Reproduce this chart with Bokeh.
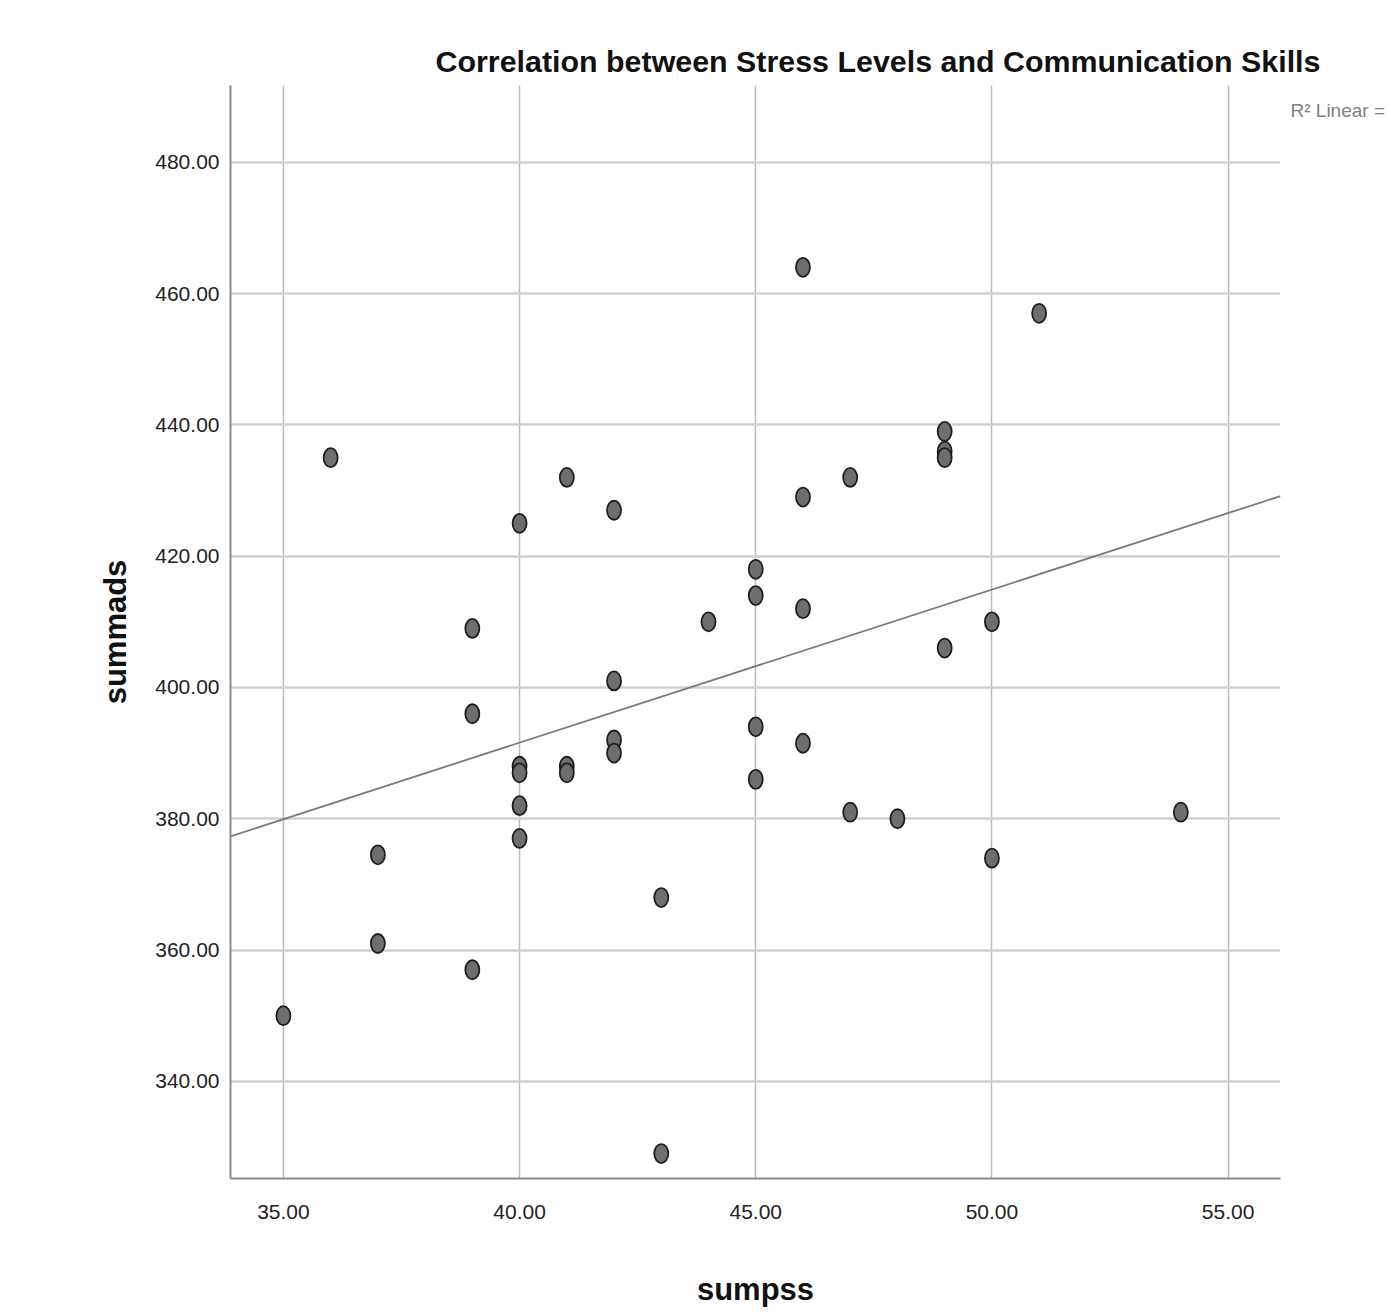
import numpy as np
from bokeh.plotting import figure
from bokeh.models import Range1d, Label, FixedTicker, ColumnDataSource, Title
from bokeh.embed import file_html
from bokeh.resources import INLINE

# data
sumpss = [35, 36, 37, 37, 39, 39, 39, 40, 40, 40, 40, 40, 41, 41, 41, 42, 42, 42, 42,
          43, 43, 44, 45, 45, 45, 45, 46, 46, 46, 46, 47, 47, 48, 49, 49, 49, 49, 50, 50, 51, 54]
summads = [350, 435, 374.5, 361, 409, 396, 357, 425, 388, 387, 382, 377, 432, 388, 387, 427, 401, 392, 390,
           368, 329, 410, 418, 414, 394, 386, 464, 429, 412, 391.5, 432, 381, 380, 439, 436, 435, 406, 410, 374, 457, 381]
x_ticks = [35, 40, 45, 50, 55]
y_ticks = [340, 360, 380, 400, 420, 440, 460, 480]
title_text = "Correlation between Stress Levels and Communication Skills"
x_label = "sumpss"
y_label = "summads"
r2_text = "R\u00b2 Linear ="

FONT = "Liberation Sans"
x0, x1 = 33.88, 56.11
y0, y1 = 325.2, 491.7

p = figure(width=1385, height=1309, output_backend="svg", toolbar_location=None,
           x_range=Range1d(x0, x1), y_range=Range1d(y0, y1),
           min_border_left=230, min_border_right=105, min_border_top=85, min_border_bottom=131)
p.outline_line_color = None
p.background_fill_color = "white"
p.border_fill_color = "white"

# grids
p.xgrid.ticker = FixedTicker(ticks=x_ticks)
p.ygrid.ticker = FixedTicker(ticks=y_ticks)
p.xgrid.grid_line_color = "#bcbcbc"
p.xgrid.grid_line_width = 1.5
p.ygrid.grid_line_color = "#cfcfcf"
p.ygrid.grid_line_width = 2.5

# axes
for ax in (p.xaxis, p.yaxis):
    ax.axis_line_color = "#8a8a8a"
    ax.axis_line_width = 2
    ax.major_tick_line_color = None
    ax.minor_tick_line_color = None
    ax.major_tick_out = 0
    ax.major_tick_in = 0
    ax.minor_tick_out = 0
    ax.minor_tick_in = 0
    ax.major_label_text_font = FONT
    ax.major_label_text_font_size = "21px"
    ax.major_label_text_color = "#222222"
    ax.axis_label_text_font = FONT
    ax.axis_label_text_font_size = "31px"
    ax.axis_label_text_font_style = "bold"
    ax.axis_label_text_color = "#111111"

p.xaxis.ticker = FixedTicker(ticks=x_ticks)
p.yaxis.ticker = FixedTicker(ticks=y_ticks)
p.xaxis.major_label_overrides = {t: f"{t:.2f}" for t in x_ticks}
p.yaxis.major_label_overrides = {t: f"{t:.2f}" for t in y_ticks}
p.xaxis.axis_label = x_label
p.yaxis.axis_label = y_label
p.xaxis.major_label_standoff = 26
p.yaxis.major_label_standoff = 11
p.xaxis.axis_label_standoff = 50
p.yaxis.axis_label_standoff = 19

# linear fit line
slope, intercept = np.polyfit(sumpss, summads, 1)
p.line([x0, x1], [intercept + slope * x0, intercept + slope * x1],
       line_color="#7a7a7a", line_width=1.8)

# points
src = ColumnDataSource(dict(x=sumpss, y=summads))
p.ellipse(x="x", y="y", width=14, height=19, width_units="screen", height_units="screen",
          source=src, fill_color="#6e6e6e", line_color="#1e1e1e", line_width=1.8)

# title
p.add_layout(Title(text=title_text, align="left", offset=205, text_font=FONT,
                   text_font_size="30.4px", text_font_style="bold", text_color="#111111",
                   standoff=16), "above")

# R2 label at the right of the frame
p.add_layout(Label(x=10, y=1068, x_units="screen", y_units="screen", text=r2_text,
                   text_align="left", text_baseline="middle",
                   text_font=FONT, text_font_size="19px", text_color="#808080"), "right")

open("out.html", "w").write(file_html(p, INLINE))
